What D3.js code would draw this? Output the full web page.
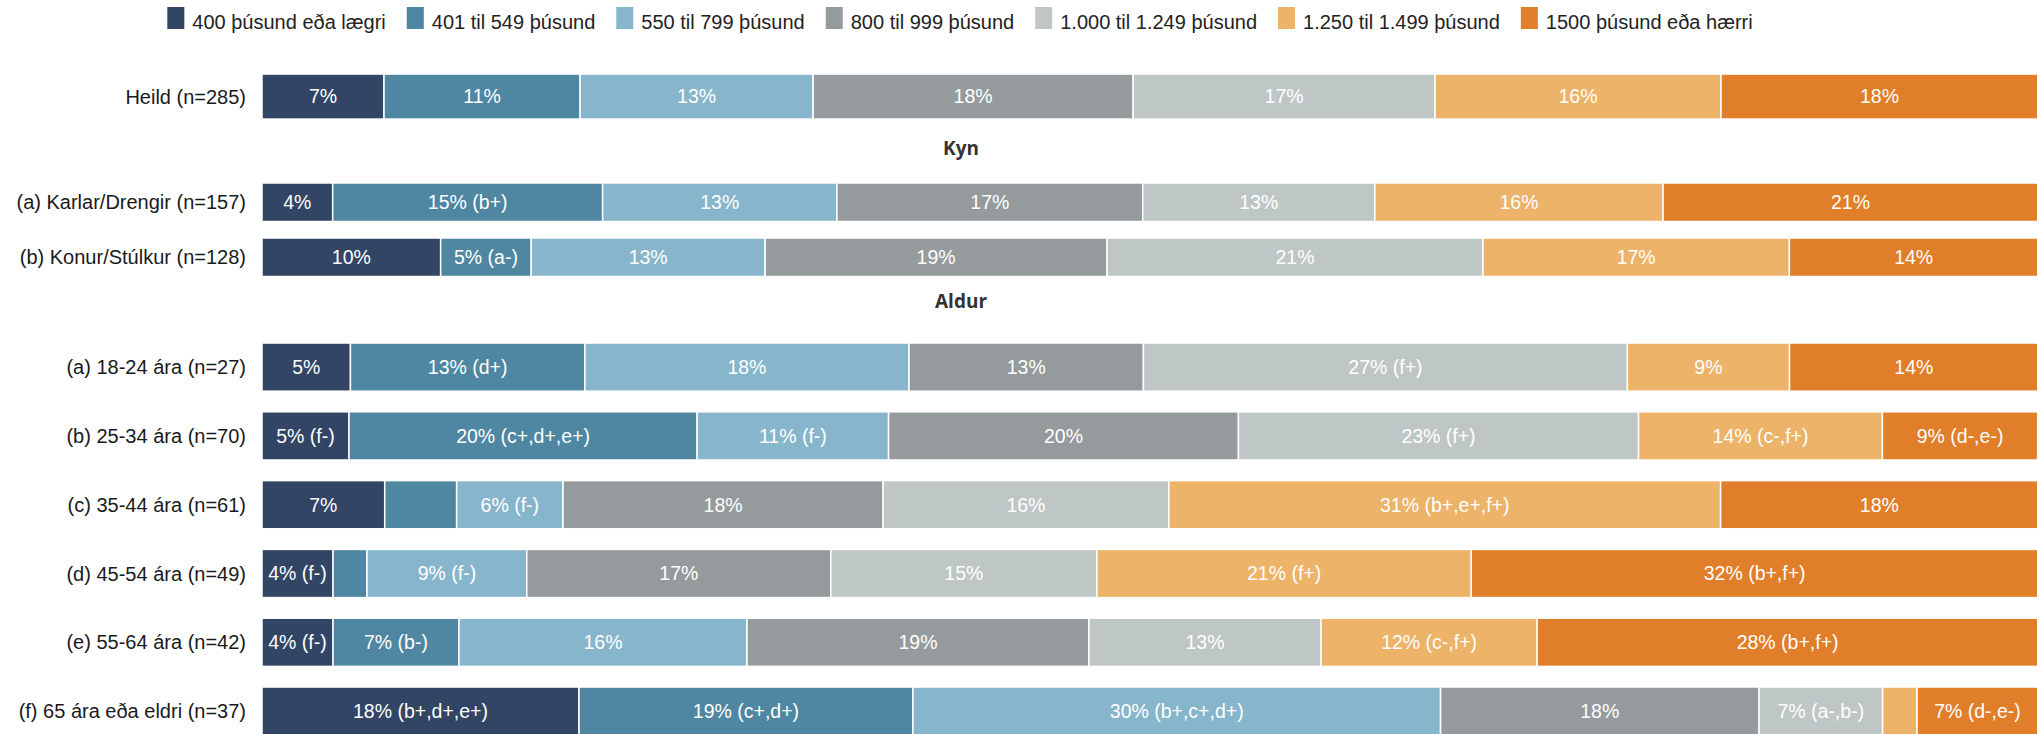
<!DOCTYPE html>
<html>
<head>
<meta charset="utf-8">
<script src="https://cdn.jsdelivr.net/npm/d3@7"></script>
<style>
  html, body { margin: 0; padding: 0; background: #fff; }
  svg { display: block; }
</style>
</head>
<body>
<svg id="chart" width="2037" height="734"></svg>
<script>
// Row labels, grouped into panels (overall, gender, age)
const categories = [
  "Heild (n=285)",
  "(a) Karlar/Drengir (n=157)",
  "(b) Konur/Stúlkur (n=128)",
  "(a) 18-24 ára (n=27)",
  "(b) 25-34 ára (n=70)",
  "(c) 35-44 ára (n=61)",
  "(d) 45-54 ára (n=49)",
  "(e) 55-64 ára (n=42)",
  "(f) 65 ára eða eldri (n=37)"
];
const panelNames = ["", "Kyn", "Aldur"];
const panelOf = [0, 1, 1, 2, 2, 2, 2, 2, 2];

// Income brackets (legend)
const seriesNames = [
  "400 þúsund eða lægri",
  "401 til 549 þúsund",
  "550 til 799 þúsund",
  "800 til 999 þúsund",
  "1.000 til 1.249 þúsund",
  "1.250 til 1.499 þúsund",
  "1500 þúsund eða hærri"
];

// Share (%) of each row in each bracket
const s400 = [6.87, 3.98, 10.06, 4.98, 4.90, 6.91, 4.00, 4.00, 17.85];
const s549 = [11.04, 15.20, 5.10, 13.20, 19.60, 4.05, 1.91, 7.09, 18.80];
const s799 = [13.12, 13.19, 13.17, 18.25, 10.78, 5.99, 9.00, 16.22, 29.71];
const s999 = [18.02, 17.22, 19.25, 13.20, 19.70, 18.02, 17.12, 19.25, 17.93];
const s1249 = [17.00, 13.07, 21.17, 27.25, 22.53, 16.09, 14.98, 13.07, 6.96];
const s1499 = [16.10, 16.23, 17.25, 9.13, 13.73, 31.07, 21.08, 12.17, 1.94];
const s1500 = [17.85, 21.10, 14.00, 14.00, 8.74, 17.87, 31.91, 28.20, 6.81];

// Significance notes after each percentage (null = no label on that segment)
const n400 = ["", "", "", "", "(f-)", "", "(f-)", "(f-)", "(b+,d+,e+)"];
const n549 = ["", "(b+)", "(a-)", "(d+)", "(c+,d+,e+)", null, null, "(b-)", "(c+,d+)"];
const n799 = ["", "", "", "", "(f-)", "(f-)", "(f-)", "", "(b+,c+,d+)"];
const n999 = ["", "", "", "", "", "", "", "", ""];
const n1249 = ["", "", "", "(f+)", "(f+)", "", "", "", "(a-,b-)"];
const n1499 = ["", "", "", "", "(c-,f+)", "(b+,e+,f+)", "(f+)", "(c-,f+)", null];
const n1500 = ["", "", "", "", "(d-,e-)", "", "(b+,f+)", "(b+,f+)", "(d-,e-)"];

const colors = ["#324565", "#4f86a1", "#87b6cc", "#959b9c", "#bfc7c6", "#ecb369", "#e07e29"];

const seriesValues = [s400, s549, s799, s999, s1249, s1499, s1500];
const seriesNotes = [n400, n549, n799, n999, n1249, n1499, n1500];

const svg = d3.select("#chart");
const FONT = "'Liberation Sans', Arial, sans-serif";

// Horizontal scale: 0–100 %
const x = d3.scaleLinear().domain([0, 100]).range([262, 2038]);

// One band scale per panel
const panelRanges = [[64.4, 128.7], [174.75, 284.75], [332.7, 745.5]];
const headerY = [0, 148, 301];
const panelScales = panelRanges.map((r, p) =>
  d3.scaleBand()
    .domain(categories.filter((c, i) => panelOf[i] === p))
    .range(r)
    .paddingInner(0.3)
    .paddingOuter(0.15)
);
const yOf = i => panelScales[panelOf[i]](categories[i]);
const hOf = i => panelScales[panelOf[i]].bandwidth();

// Stack the series per row
const rows = categories.map((c, i) => {
  const obj = { cat: c, idx: i };
  seriesNames.forEach((s, k) => { obj[s] = seriesValues[k][i]; });
  return obj;
});
const stacked = d3.stack().keys(seriesNames)(rows);

// Legend
const legend = svg.append("g").attr("class", "legend");
const items = legend.selectAll("g").data(seriesNames).join("g");
items.append("rect")
  .attr("width", 17).attr("height", 22)
  .attr("y", 7)
  .attr("fill", (d, k) => colors[k]);
items.append("text")
  .attr("x", 25).attr("y", 29)
  .attr("font-family", FONT).attr("font-size", 20)
  .attr("fill", "#222")
  .text(d => d);
const GAP = 21;
let cursor = 0;
items.each(function () {
  const w = d3.select(this).select("text").node().getComputedTextLength();
  d3.select(this).attr("transform", `translate(${cursor},0)`);
  cursor += 25 + w + GAP;
});
const legendWidth = cursor - GAP;
legend.attr("transform", `translate(${960 - legendWidth / 2},0)`);

// Panel headers
svg.selectAll("text.panel")
  .data(panelNames.map((n, p) => ({ n, p })).filter(d => d.n))
  .join("text")
  .attr("class", "panel")
  .attr("x", 961)
  .attr("y", d => headerY[d.p])
  .attr("text-anchor", "middle")
  .attr("dominant-baseline", "central")
  .attr("font-family", "'Open Sans', sans-serif")
  .attr("font-weight", 700)
  .attr("font-size", 19)
  .attr("fill", "#333")
  .text(d => d.n);

// Row labels
svg.selectAll("text.rowlabel")
  .data(categories)
  .join("text")
  .attr("class", "rowlabel")
  .attr("x", 246)
  .attr("y", (d, i) => yOf(i) + hOf(i) / 2)
  .attr("dy", "0.35em")
  .attr("text-anchor", "end")
  .attr("font-family", FONT)
  .attr("font-size", 20)
  .attr("fill", "#1a1a1a")
  .text(d => d);

// Bar segments
const layers = svg.selectAll("g.layer")
  .data(stacked)
  .join("g")
  .attr("class", "layer")
  .attr("fill", (d, k) => colors[k]);

layers.selectAll("rect")
  .data(d => d)
  .join("rect")
  .attr("x", d => x(d[0]))
  .attr("width", d => x(d[1]) - x(d[0]))
  .attr("y", d => yOf(d.data.idx))
  .attr("height", d => hOf(d.data.idx))
  .attr("stroke", "#fff")
  .attr("stroke-width", 1.5);

// Segment labels
layers.each(function (layer, k) {
  d3.select(this).selectAll("text")
    .data(layer.filter(d => seriesNotes[k][d.data.idx] !== null))
    .join("text")
    .attr("x", d => (x(d[0]) + x(d[1])) / 2)
    .attr("y", d => yOf(d.data.idx) + hOf(d.data.idx) / 2)
    .attr("dy", "0.35em")
    .attr("text-anchor", "middle")
    .attr("font-family", FONT)
    .attr("font-size", 19.5)
    .attr("fill", "#fff")
    .text(d => {
      const v = seriesValues[k][d.data.idx];
      const note = seriesNotes[k][d.data.idx];
      return Math.round(v) + "%" + (note ? " " + note : "");
    });
});
</script>
</body>
</html>
